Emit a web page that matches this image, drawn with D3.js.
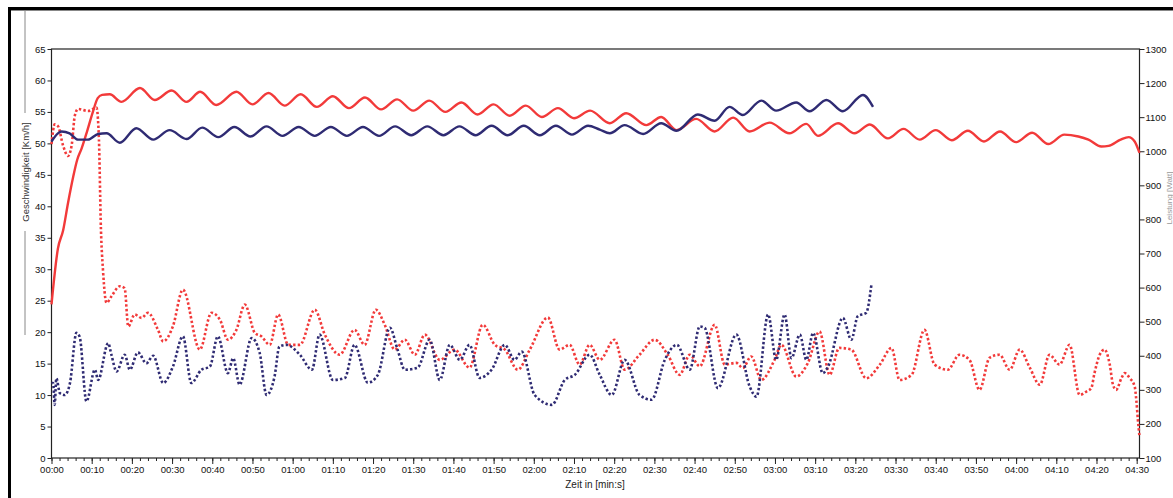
<!DOCTYPE html>
<html>
<head>
<meta charset="utf-8">
<script src="https://cdn.jsdelivr.net/npm/d3@7"></script>
<style>
    body { margin: 0; background: #fff; }
    svg { display: block; }
    text { font-family: "Liberation Sans", Arial, sans-serif; }
</style>
</head>
<body>
<div class="chart"></div>
<script>
// time in seconds, speed in km/h (left axis), power in watt (right axis)
var speedTicks = d3.range(0, 66, 5);
var powerTicks = d3.range(100, 1301, 100);
var timeTicks = d3.range(0, 271, 10);

var speedRed = [[0,24.4],[1.6,33.3],[2.9,36.2],[4.1,40.5],[5.4,44.7],[6.4,47.4],[7.5,49.2],[8.8,51.8],[10.2,54.8],
    [11.5,57.2],[12.6,57.7],[14.5,57.8],[17.4,56.6],[22,58.8],[25.7,56.9],[29.9,58.4],[33.6,56.6],[37,58.2],[41,56.1],
    [46,58.2],[50,56.2],[54,58],[58,56],[62,57.8],[66,55.8],[70,57.5],[74,55.6],[78,57.3],[82,55.4],[86,57],[90,55.2],
    [94,56.8],[98,55],[102,56.5],[106,54.6],[110,56.2],[114,54.4],[118,56],[122,54.2],[126,55.6],[130,54],[134,55.2],
    [138.9,53.2],[143,54.8],[148,52.9],[151.7,54.2],[155.5,52.1],[160.4,53.9],[165,51.9],[169.6,54.1],[173.7,51.9],
    [178.7,53.3],[183.6,51.6],[187.8,53.1],[190.7,51.2],[195.7,53.2],[199.8,51.6],[203.6,53],[208.1,50.8],[212,52.3],
    [216,50.6],[220,52.1],[224,50.5],[228,52],[232,50.3],[236,51.9],[240,50.2],[244,51.7],[248,49.9],[252,51.4],
    [255.5,51.1],[258,50.6],[261.2,49.5],[263,49.6],[266,50.6],[268,51],[269.5,50.3],[270.7,48.5]];

var speedBlue = [[0,50.3],[1.6,51.6],[2.5,51.9],[4.5,51.6],[6.6,50.6],[9.1,50.6],[11.6,51.5],[13.7,51.6],[17,50.1],
    [21.1,52.4],[25.3,50.6],[29.4,52.1],[33.6,50.7],[37.5,52.5],[41.5,51],[45.5,52.6],[49.5,51.1],[53.5,52.7],
    [57.5,51.2],[61.5,52.6],[65.5,51.2],[69.5,52.6],[73.5,51.2],[77.5,52.6],[81.5,51.2],[85.5,52.7],[89.5,51.3],
    [93.5,52.7],[97.5,51.3],[101.5,52.7],[105.5,51.3],[109.5,52.8],[113.5,51.3],[117.5,52.8],[121.5,51.3],
    [125.5,52.8],[129.5,51.4],[133.5,52.8],[136.4,52.2],[138.9,51.6],[142.6,52.9],[147.2,51.5],[151.7,53.2],
    [155.5,52],[160.8,54.6],[165,53.6],[168.7,55.8],[172,54.5],[176.6,56.8],[180.3,55.2],[185.3,56.5],[188.6,55.1],
    [192.8,56.9],[196.9,55.1],[201.9,57.7],[204.4,55.8]];

var powerRed = [[0,1021],[0.8,1079],[1.6,1074],[2.9,1016],[4.1,986],[5,1016],[5.8,1104],[6.6,1124],[9.1,1118],
    [11.2,1128],[11.8,1035],[12.3,771],[12.8,653],[13.7,555],[14.9,574],[17,604],[18.2,598],[19.1,486],[20.7,521],
    [22.4,511],[24,526],[26.5,476],[27.8,442],[30.2,486],[32.7,594],[36.9,418],[39.8,526],[41.9,506],[43.9,447],
    [46,476],[48.1,550],[50.6,467],[52.2,457],[54.3,432],[56.4,521],[58.9,432],[61.8,432],[65.5,535],[68,462],
    [71.7,403],[75.4,476],[77.9,432],[80.7,535],[82.9,491],[85.4,418],[87.9,447],[90.4,403],[92.9,462],[96.6,388],
    [100.3,418],[104,365],[107.3,491],[110.3,432],[112.8,418],[116,359],[119,418],[123.5,512],[126.4,418],
    [128.9,432],[131.4,374],[133.9,432],[136.4,388],[140.1,447],[142.6,359],[146.3,403],[150.1,447],[153.3,403],
    [156.3,344],[158.8,403],[161.3,369],[165,491],[167.5,374],[170.4,379],[172,364],[174.1,398],[176.6,329],
    [179.9,388],[181.6,432],[185.3,339],[188.2,379],[191.1,471],[193.6,344],[196,423],[199,418],[202.7,334],
    [206.1,374],[209,423],[211,329],[214,344],[217.2,476],[219.7,374],[223,359],[225.9,403],[228.4,388],[230.9,300],
    [233.4,394],[235.9,403],[238.4,359],[240.9,418],[243.4,365],[245.9,315],[248.3,403],[250.8,374],[253.3,432],
    [255.8,285],[257.5,295],[258.7,305],[259.5,349],[260.8,403],[262,418],[263.3,374],[264.1,315],[264.9,300],
    [266.2,334],[267,349],[268.3,334],[269.5,310],[269.9,271],[270.3,212],[270.7,163]];

var powerBlue = [[0,320],[0.4,320],[0.8,256],[1.2,334],[2.1,290],[3.3,285],[4.6,320],[6.2,467],[7,456],[8.7,266],
    [10.8,359],[11.6,329],[14.1,437],[14.9,403],[16.2,354],[18.2,403],[19.5,359],[21.5,410],[23.6,378],[25.3,400],
    [27.8,320],[30.2,368],[32.7,457],[34.8,320],[37.3,359],[39.4,368],[41.4,457],[43.9,349],[45.2,393],[46.8,315],
    [49.8,452],[51.8,408],[53.5,285],[55.5,339],[56.7,427],[58.5,432],[61.8,403],[64.8,359],[66.7,462],[70,329],
    [73,335],[75.4,432],[78.7,321],[81.2,344],[84.2,482],[86.1,418],[87.9,359],[91.1,365],[94.1,447],[96.6,329],
    [99.1,432],[101.6,388],[104,432],[106.5,335],[109.5,359],[112.8,432],[115.2,388],[117,412],[120.2,285],
    [124.5,256],[127.7,329],[130.2,344],[133.9,403],[136.4,344],[139.4,285],[142.6,388],[146.3,285],[149.3,271],
    [152.6,388],[155.6,432],[158.8,359],[161.3,486],[162.5,482],[165.8,305],[170.4,462],[173.7,310],[175.4,280],
    [178.3,521],[180.3,388],[182.4,521],[184.1,393],[186.2,462],[187.8,388],[189.5,467],[191.9,349],[193.2,368],
    [196.9,511],[199,447],[200.6,516],[202.7,526],[204,609]];

var red = "#f23a3a", blue = "#2f2b73";

var margin = { top: 49, left: 51.5 },
    width = 1088,
    height = 409;

var svg = d3.select(".chart").append("svg")
    .attr("width", 1173)
    .attr("height", 498);

// outer window frame
svg.append("rect").attr("x", 9.5).attr("y", 8.5).attr("width", 1180).attr("height", 500)
    .attr("fill", "none").attr("stroke", "#000").attr("stroke-width", 3);
svg.append("line").attr("x1", 11).attr("x2", 1173).attr("y1", 10.5).attr("y2", 10.5)
    .attr("stroke", "#888").attr("stroke-width", 1);

var x = d3.scaleLinear().domain([0, 270.7]).range([margin.left, margin.left + width]);
var yL = d3.scaleLinear().domain([0, 65]).range([margin.top + height, margin.top]);
var yR = d3.scaleLinear().domain([100, 1300]).range([margin.top + height, margin.top]);

var fmt = function (s) {
    return d3.format("02")(Math.floor(s / 60)) + ":" + d3.format("02")(s % 60);
};

// plot frame
svg.append("rect")
    .attr("x", margin.left).attr("y", margin.top)
    .attr("width", width).attr("height", height)
    .attr("fill", "none").attr("stroke", "#222").attr("stroke-width", 1.2);

// minor time ticks
svg.append("g")
    .attr("transform", "translate(0," + (margin.top + height) + ")")
    .call(d3.axisBottom(x).tickValues(d3.range(0, 271, 2)).tickSize(3).tickFormat(""))
    .call(g => g.select(".domain").remove());

// major time ticks
var xAxis = svg.append("g")
    .attr("class", "xAxis")
    .attr("transform", "translate(0," + (margin.top + height) + ")")
    .call(d3.axisBottom(x).tickValues(timeTicks).tickSize(6).tickPadding(2).tickFormat(fmt));
xAxis.select(".domain").remove();

svg.append("g")
    .attr("class", "yAxis")
    .attr("transform", "translate(" + margin.left + ",0)")
    .call(d3.axisLeft(yL).tickValues(speedTicks).tickSize(4).tickPadding(2))
    .select(".domain").remove();

svg.append("g")
    .attr("class", "yAxisR")
    .attr("transform", "translate(" + (margin.left + width) + ",0)")
    .call(d3.axisRight(yR).tickValues(powerTicks).tickSize(5).tickPadding(1).tickFormat(d3.format("d")))
    .select(".domain").remove();

svg.selectAll(".tick text")
    .attr("font-size", "9.5px")
    .attr("fill", "#111");
svg.selectAll(".tick line").attr("stroke", "#222");

// axis titles
svg.append("text")
    .attr("x", 595).attr("y", 488)
    .attr("text-anchor", "middle")
    .attr("font-size", "10px")
    .attr("fill", "#222")
    .text("Zeit in [min:s]");

svg.append("line").attr("x1", 25).attr("x2", 25).attr("y1", 11).attr("y2", 113).attr("stroke", "#888");
svg.append("line").attr("x1", 25).attr("x2", 25).attr("y1", 231).attr("y2", 335).attr("stroke", "#888");
svg.append("text")
    .attr("transform", "translate(29,172) rotate(-90)")
    .attr("text-anchor", "middle")
    .attr("font-size", "9.5px")
    .attr("fill", "#333")
    .text("Geschwindigkeit [Km/h]");

svg.append("text")
    .attr("transform", "translate(1171.5,198) rotate(-90)")
    .attr("text-anchor", "middle")
    .attr("font-size", "8px")
    .attr("fill", "#999")
    .text("Leistung [Watt]");

var lineL = d3.line()
    .x(d => x(d[0]))
    .y(d => yL(d[1]))
    .curve(d3.curveMonotoneX);

var lineR = d3.line()
    .x(d => x(d[0]))
    .y(d => yR(d[1]))
    .curve(d3.curveMonotoneX);

svg.append("path").datum(powerRed)
    .attr("d", lineR).attr("fill", "none")
    .attr("stroke", red).attr("stroke-width", 2.6).attr("stroke-dasharray", "2.4,2.2");

svg.append("path").datum(powerBlue)
    .attr("d", lineR).attr("fill", "none")
    .attr("stroke", blue).attr("stroke-width", 2.6).attr("stroke-dasharray", "2.4,2.2");

svg.append("path").datum(speedRed)
    .attr("d", lineL).attr("fill", "none")
    .attr("stroke", red).attr("stroke-width", 2.4);

svg.append("path").datum(speedBlue)
    .attr("d", lineL).attr("fill", "none")
    .attr("stroke", blue).attr("stroke-width", 2.4);
</script>
</body>
</html>
